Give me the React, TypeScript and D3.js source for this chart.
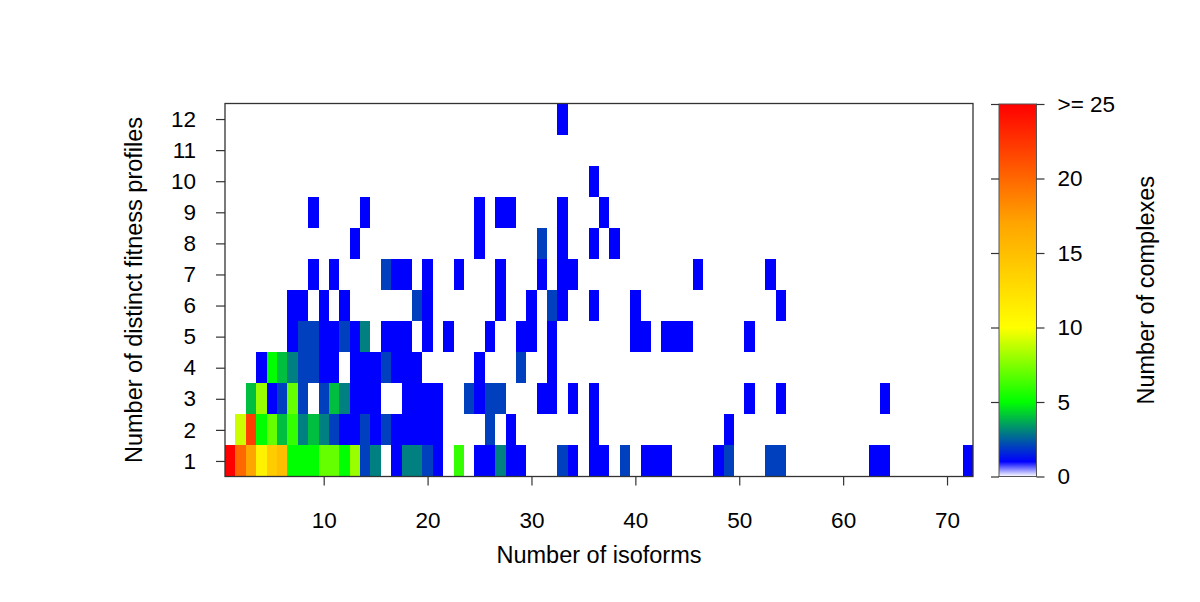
import React, { useEffect, useRef } from "react";
import * as d3 from "d3";

// one array per "number of distinct fitness profiles" (1..12)
// each entry: [number of isoforms, number of complexes]
const profiles1 = [
  [1, 30], [2, 20], [3, 17], [4, 11], [5, 14], [6, 15], [7, 5], [8, 5], [9, 5], [10, 7],
  [11, 7], [12, 5], [13, 8], [14, 2], [15, 3], [17, 1], [18, 3], [19, 3], [20, 2], [21, 1],
  [23, 6], [25, 1], [26, 1], [27, 3], [28, 1], [29, 1], [33, 2], [34, 1], [36, 1], [37, 1],
  [39, 2], [41, 1], [42, 1], [43, 1], [48, 1], [49, 2], [53, 2], [54, 2], [63, 1], [64, 1], [72, 1],
];
const profiles2 = [
  [2, 9], [3, 22], [4, 5], [5, 7], [6, 4], [7, 6], [8, 3], [9, 4], [10, 3], [11, 2],
  [12, 1], [13, 1], [14, 2], [15, 1], [16, 2], [17, 1], [18, 1], [19, 1], [20, 1], [21, 1],
  [26, 2], [28, 1], [36, 1], [49, 1],
];
const profiles3 = [
  [3, 4], [4, 8], [5, 1], [6, 2], [7, 7], [8, 2], [10, 2], [11, 4], [12, 3], [13, 1],
  [14, 1], [15, 1], [18, 1], [19, 1], [20, 1], [21, 1], [24, 2], [25, 1], [26, 2], [27, 2],
  [31, 1], [32, 1], [34, 1], [36, 1], [51, 1], [54, 1], [64, 1],
];
const profiles4 = [
  [4, 1], [5, 5], [6, 4], [7, 3], [8, 2], [9, 2], [10, 1], [11, 1], [13, 1], [14, 1],
  [15, 1], [16, 2], [17, 1], [18, 1], [19, 1], [25, 1], [29, 2], [32, 1],
];
const profiles5 = [
  [7, 1], [8, 2], [9, 2], [10, 1], [11, 1], [12, 2], [13, 1], [14, 3], [16, 1], [17, 1],
  [18, 1], [20, 1], [22, 1], [26, 1], [29, 1], [30, 1], [32, 1], [40, 1], [41, 1], [43, 1],
  [44, 1], [45, 1], [51, 1],
];
const profiles6 = [
  [7, 1], [8, 1], [10, 1], [12, 1], [19, 2], [20, 1], [27, 1], [30, 1], [32, 2], [33, 1],
  [36, 1], [40, 1], [54, 1],
];
const profiles7 = [
  [9, 1], [11, 1], [16, 2], [17, 1], [18, 1], [20, 1], [23, 1], [27, 1], [31, 1], [33, 1],
  [34, 1], [46, 1], [53, 1],
];
const profiles8 = [[13, 1], [25, 1], [31, 2], [33, 1], [36, 1], [38, 1]];
const profiles9 = [[9, 1], [14, 1], [25, 1], [27, 1], [28, 1], [33, 1], [37, 1]];
const profiles10 = [[36, 1]];
const profiles11: number[][] = [];
const profiles12 = [[33, 1]];

const profileRows = [
  profiles1, profiles2, profiles3, profiles4, profiles5, profiles6,
  profiles7, profiles8, profiles9, profiles10, profiles11, profiles12,
];

const xTicks = [10, 20, 30, 40, 50, 60, 70];
const yTicks = [1, 2, 3, 4, 5, 6, 7, 8, 9, 10, 11, 12];
const legendTicks = [0, 5, 10, 15, 20, 25];
const legendLabels = ["0", "5", "10", "15", "20", ">= 25"];
const colorStops = [0, 1, 5, 10, 17, 25];
const colorRange = ["#ffffff", "#0000ff", "#00ff00", "#ffff00", "#ffa500", "#ff0000"];

const FONT = "'Liberation Sans', Arial, Helvetica, sans-serif";

export default function App() {
  const ref = useRef<SVGSVGElement>(null);

  useEffect(() => {
    const svg = d3.select(ref.current);
    svg.selectAll("*").remove();

    const plot = { left: 225, right: 973, top: 103.5, bottom: 476.5 };
    const bar = { left: 999, right: 1036.5, top: 104, bottom: 476.5 };

    const x = d3.scaleLinear().domain([0.5, 72.5]).range([plot.left, plot.right]);
    const y = d3.scaleLinear().domain([0.5, 12.5]).range([plot.bottom, plot.top]);
    const color = d3.scaleLinear<string>()
      .domain(colorStops)
      .range(colorRange)
      .interpolate(d3.interpolateRgb)
      .clamp(true);

    const cells = profileRows.flatMap((row, i) =>
      row.map(([iso, n]) => ({ iso, prof: i + 1, n }))
    );

    svg.append("rect")
      .attr("width", 1200).attr("height", 602).attr("fill", "#fff");

    // heatmap cells
    svg.append("g")
      .selectAll("rect")
      .data(cells)
      .enter()
      .append("rect")
      .attr("x", d => x(d.iso - 0.5))
      .attr("y", d => y(d.prof + 0.5))
      .attr("width", d => x(d.iso + 0.5) - x(d.iso - 0.5))
      .attr("height", d => y(d.prof - 0.5) - y(d.prof + 0.5))
      .attr("fill", d => color(d.n))
      .attr("shape-rendering", "crispEdges");

    // frame
    svg.append("rect")
      .attr("x", plot.left).attr("y", plot.top)
      .attr("width", plot.right - plot.left)
      .attr("height", plot.bottom - plot.top)
      .attr("fill", "none")
      .attr("stroke", "#333")
      .attr("stroke-width", 1.3);

    const styleAxis = (g: any) => {
      g.select(".domain").remove();
      g.selectAll(".tick line").attr("stroke", "#333").attr("stroke-width", 1.2);
      g.selectAll(".tick text").attr("fill", "#000");
      g.attr("font-size", 22.5).attr("font-family", FONT);
    };

    // x axis
    svg.append("g")
      .attr("transform", `translate(0,${plot.bottom})`)
      .call(d3.axisBottom(x).tickValues(xTicks).tickSize(9).tickPadding(27))
      .call(styleAxis);

    // y axis
    svg.append("g")
      .attr("transform", `translate(${plot.left},0)`)
      .call(d3.axisLeft(y).tickValues(yTicks).tickSize(9).tickPadding(20))
      .call(styleAxis);

    // axis titles
    svg.append("text")
      .attr("x", (plot.left + plot.right) / 2)
      .attr("y", 563)
      .attr("text-anchor", "middle")
      .attr("font-family", FONT)
      .attr("font-size", 23.5)
      .text("Number of isoforms");

    svg.append("text")
      .attr("transform", `translate(142,${(plot.top + plot.bottom) / 2}) rotate(-90)`)
      .attr("text-anchor", "middle")
      .attr("font-family", FONT)
      .attr("font-size", 23.5)
      .text("Number of distinct fitness profiles");

    // colour bar
    const grad = svg.append("defs")
      .append("linearGradient")
      .attr("id", "countGrad")
      .attr("x1", 0).attr("y1", 1).attr("x2", 0).attr("y2", 0);
    grad.selectAll("stop")
      .data(colorStops)
      .enter()
      .append("stop")
      .attr("offset", d => d / 25)
      .attr("stop-color", (d, i) => colorRange[i]);

    const legendScale = d3.scaleLinear().domain([0, 25]).range([bar.bottom, bar.top]);

    svg.append("rect")
      .attr("x", bar.left).attr("y", bar.top)
      .attr("width", bar.right - bar.left)
      .attr("height", bar.bottom - bar.top)
      .attr("fill", "url(#countGrad)")
      .attr("stroke", "#555")
      .attr("stroke-width", 1);

    svg.append("g")
      .attr("transform", `translate(${bar.right},0)`)
      .call(d3.axisRight(legendScale)
        .tickValues(legendTicks)
        .tickFormat((d, i) => legendLabels[i])
        .tickSize(8)
        .tickPadding(13))
      .call(styleAxis);

    svg.append("g")
      .attr("transform", `translate(${bar.left},0)`)
      .call(d3.axisLeft(legendScale)
        .tickValues(legendTicks)
        .tickFormat(() => "")
        .tickSize(8))
      .call(styleAxis);

    svg.append("text")
      .attr("transform", `translate(1154,${(bar.top + bar.bottom) / 2}) rotate(-90)`)
      .attr("text-anchor", "middle")
      .attr("font-family", FONT)
      .attr("font-size", 23.5)
      .text("Number of complexes");
  }, []);

  return (
    <svg
      ref={ref}
      width={1200}
      height={602}
      style={{ position: "absolute", left: 0, top: 0 }}
    />
  );
}
